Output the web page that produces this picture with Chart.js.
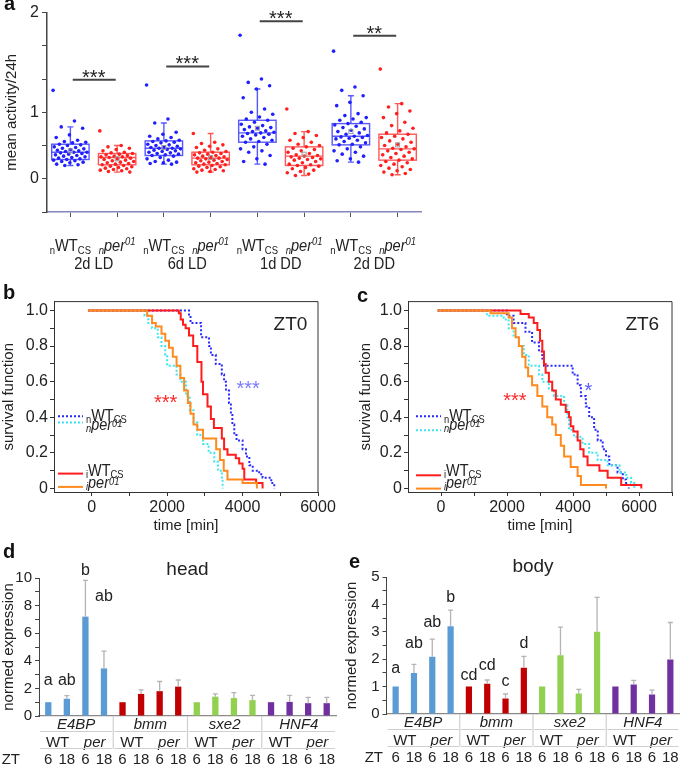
<!DOCTYPE html>
<html>
<head>
<meta charset="utf-8">
<title>activity, survival and expression</title>
<script src="https://cdn.jsdelivr.net/npm/chart.js"></script>
<style>
  body { margin: 0; background: #fff; }
  #page { position: relative; width: 685px; height: 765px; overflow: hidden; font-family: "Liberation Sans", Arial, sans-serif; }
  canvas { position: absolute; }
  .tag { position: absolute; font-weight: bold; font-size: 20px; line-height: 20px; color: #111; }
</style>
</head>
<body>
<div id="page">
  <canvas id="activity" width="430" height="290" style="left:0;top:0"></canvas>
  <canvas id="zt0" width="340" height="245" style="left:0;top:290px"></canvas>
  <canvas id="zt6" width="345" height="245" style="left:340px;top:290px"></canvas>
  <canvas id="head" width="340" height="235" style="left:0;top:530px"></canvas>
  <canvas id="body" width="345" height="235" style="left:340px;top:530px"></canvas>
  <div class="tag" style="left:4px;top:-7px">a</div>
  <div class="tag" style="left:3px;top:282px">b</div>
  <div class="tag" style="left:357px;top:285px">c</div>
  <div class="tag" style="left:3px;top:541px">d</div>
  <div class="tag" style="left:349px;top:551px">e</div>
</div>
<script>
const FONT = '"Liberation Sans", Arial, sans-serif';
Chart.defaults.font.family = FONT;
Chart.defaults.color = '#222';
Chart.defaults.animation = false;
Chart.defaults.plugins.legend.display = false;
Chart.defaults.plugins.tooltip.enabled = false;

// ---------- panel a: mean activity per fly ----------
const activityGroups = ['2d LD', '6d LD', '1d DD', '2d DD'];
const wt2dLD = [1.33, 0.87, 0.78, 0.76, 0.66, 0.62, 0.58, 0.56, 0.55, 0.54, 0.52, 0.51, 0.50, 0.48, 0.47, 0.46, 0.45, 0.44, 0.43, 0.42, 0.41, 0.40, 0.40, 0.39, 0.38, 0.37, 0.36, 0.35, 0.34, 0.33, 0.32, 0.31, 0.30, 0.29, 0.28, 0.27, 0.26, 0.25, 0.24, 0.22, 0.21, 0.20];
const per2dLD = [0.72, 0.50, 0.48, 0.46, 0.44, 0.42, 0.40, 0.39, 0.38, 0.37, 0.36, 0.35, 0.34, 0.33, 0.33, 0.32, 0.31, 0.30, 0.29, 0.28, 0.27, 0.26, 0.25, 0.24, 0.23, 0.22, 0.21, 0.20, 0.19, 0.18, 0.17, 0.16, 0.15, 0.14, 0.13, 0.12, 0.11, 0.10];
const wt6dLD = [1.41, 0.90, 0.84, 0.70, 0.67, 0.64, 0.62, 0.60, 0.58, 0.57, 0.56, 0.55, 0.54, 0.52, 0.51, 0.50, 0.49, 0.48, 0.47, 0.46, 0.46, 0.45, 0.44, 0.43, 0.42, 0.41, 0.40, 0.39, 0.38, 0.37, 0.36, 0.35, 0.34, 0.32, 0.30, 0.28, 0.26, 0.25, 0.24, 0.23, 0.22];
const per6dLD = [0.68, 0.55, 0.53, 0.51, 0.49, 0.47, 0.45, 0.43, 0.41, 0.40, 0.39, 0.38, 0.37, 0.36, 0.35, 0.34, 0.33, 0.32, 0.31, 0.31, 0.30, 0.29, 0.28, 0.27, 0.26, 0.25, 0.24, 0.23, 0.22, 0.21, 0.20, 0.19, 0.18, 0.17, 0.15, 0.14, 0.13, 0.12, 0.11, 0.10];
const wt1dDD = [2.16, 1.50, 1.45, 1.40, 1.35, 1.22, 1.05, 1.00, 0.97, 0.93, 0.90, 0.88, 0.85, 0.82, 0.80, 0.78, 0.77, 0.76, 0.74, 0.72, 0.71, 0.70, 0.69, 0.68, 0.67, 0.66, 0.64, 0.62, 0.60, 0.58, 0.56, 0.55, 0.52, 0.48, 0.45, 0.42, 0.40, 0.35, 0.30, 0.26, 0.22];
const per1dDD = [1.05, 0.71, 0.68, 0.65, 0.62, 0.58, 0.55, 0.52, 0.50, 0.48, 0.46, 0.44, 0.42, 0.40, 0.38, 0.36, 0.35, 0.34, 0.33, 0.32, 0.31, 0.30, 0.29, 0.28, 0.26, 0.24, 0.22, 0.21, 0.20, 0.19, 0.17, 0.15, 0.13, 0.11, 0.09, 0.07, 0.05];
const wt2dDD = [1.92, 1.38, 1.33, 1.25, 1.15, 1.10, 0.98, 0.95, 0.92, 0.90, 0.88, 0.85, 0.83, 0.81, 0.79, 0.77, 0.75, 0.73, 0.71, 0.69, 0.67, 0.65, 0.64, 0.63, 0.62, 0.61, 0.60, 0.58, 0.56, 0.54, 0.52, 0.51, 0.48, 0.45, 0.42, 0.40, 0.37, 0.34, 0.30, 0.27, 0.25];
const per2dDD = [1.65, 1.13, 1.08, 1.02, 0.98, 0.92, 0.85, 0.80, 0.76, 0.72, 0.69, 0.67, 0.64, 0.62, 0.60, 0.57, 0.55, 0.52, 0.50, 0.48, 0.46, 0.45, 0.44, 0.42, 0.40, 0.38, 0.36, 0.34, 0.32, 0.30, 0.28, 0.26, 0.24, 0.22, 0.20, 0.18, 0.16, 0.14, 0.12, 0.10, 0.08, 0.06];
const activityPoints = [wt2dLD, per2dLD, wt6dLD, per6dLD, wt1dDD, per1dDD, wt2dDD, per2dDD];
const boxQ1 = [0.29, 0.21, 0.35, 0.21, 0.55, 0.20, 0.51, 0.28];
const boxMedian = [0.40, 0.32, 0.46, 0.31, 0.69, 0.34, 0.64, 0.45];
const boxQ3 = [0.52, 0.38, 0.57, 0.40, 0.88, 0.48, 0.83, 0.67];
const whiskerLow = [0.20, 0.10, 0.22, 0.10, 0.22, 0.05, 0.25, 0.06];
const whiskerHigh = [0.78, 0.50, 0.84, 0.68, 1.35, 0.71, 1.25, 1.13];
const boxMean = [0.42, 0.30, 0.47, 0.32, 0.76, 0.37, 0.71, 0.51];
const sigLabels = ['***', '***', '***', '**'];
const sigLevel = [1.49, 1.69, 2.37, 2.15];

// ---------- panels b, c: survival ----------
const zt0WtNormT = [-100, 2580, 2620, 2900, 3110, 3160, 3290, 3450, 3510, 3560, 3640, 3690, 3730, 3780, 3840, 4000, 4090, 4180, 4270, 4440, 4530, 4760, 4840];
const zt0WtNormS = [1, 0.97, 0.93, 0.85, 0.80, 0.75, 0.70, 0.64, 0.60, 0.55, 0.48, 0.42, 0.36, 0.30, 0.27, 0.22, 0.18, 0.13, 0.10, 0.08, 0.06, 0.03, 0];
const zt0PerNormT = [-100, 1400, 1500, 1600, 1750, 1850, 1950, 2000, 2250, 2350, 2500, 2600, 2700, 2800, 2950, 3100, 3250, 3350, 3450, 3470];
const zt0PerNormS = [1, 0.97, 0.93, 0.90, 0.85, 0.80, 0.75, 0.69, 0.64, 0.60, 0.52, 0.44, 0.37, 0.30, 0.25, 0.20, 0.15, 0.10, 0.05, 0];
const zt0WtIsoT = [-100, 2310, 2360, 2420, 2490, 2580, 2690, 2800, 2910, 2950, 3070, 3160, 3240, 3450, 3510, 3600, 3820, 3910, 4000, 4045, 4360, 4530];
const zt0WtIsoS = [1, 0.985, 0.95, 0.92, 0.90, 0.86, 0.80, 0.71, 0.60, 0.53, 0.46, 0.39, 0.34, 0.28, 0.22, 0.19, 0.17, 0.14, 0.11, 0.05, 0.03, 0];
const zt0PerIsoT = [-100, 1470, 1600, 1700, 1850, 1950, 2050, 2150, 2250, 2350, 2450, 2550, 2620, 2700, 2800, 2950, 3300, 3400, 3500, 3600, 4000, 4380];
const zt0PerIsoS = [1, 0.97, 0.93, 0.91, 0.87, 0.83, 0.79, 0.74, 0.69, 0.62, 0.55, 0.48, 0.42, 0.36, 0.33, 0.28, 0.22, 0.16, 0.10, 0.05, 0.03, 0];

const zt6WtNormT = [-100, 2000, 2200, 2560, 2760, 2970, 3070, 3120, 3990, 4140, 4240, 4390, 4490, 4640, 4750, 4900, 5000, 5100, 5350, 5510, 5610, 5690];
const zt6WtNormS = [1, 0.97, 0.93, 0.88, 0.82, 0.77, 0.73, 0.69, 0.64, 0.58, 0.52, 0.46, 0.40, 0.33, 0.27, 0.22, 0.18, 0.13, 0.09, 0.05, 0.02, 0];
const zt6PerNormT = [-100, 1390, 1900, 2050, 2200, 2360, 2510, 2660, 2970, 3070, 3270, 3420, 3730, 3830, 3880, 4030, 4290, 4490, 4750, 5050, 5410, 5610, 5760, 5860];
const zt6PerNormS = [1, 0.97, 0.95, 0.90, 0.85, 0.80, 0.75, 0.69, 0.64, 0.60, 0.56, 0.52, 0.47, 0.40, 0.33, 0.29, 0.25, 0.20, 0.16, 0.13, 0.09, 0.06, 0.03, 0];
const zt6WtIsoT = [-100, 2410, 2660, 2810, 2920, 3000, 3070, 3120, 3170, 3270, 3370, 3480, 3630, 3780, 3880, 3930, 4010, 4140, 4220, 4320, 4440, 4800, 5050, 5460, 6070];
const zt6WtIsoS = [1, 0.98, 0.96, 0.93, 0.89, 0.83, 0.77, 0.70, 0.65, 0.60, 0.55, 0.50, 0.47, 0.43, 0.40, 0.35, 0.32, 0.27, 0.22, 0.18, 0.13, 0.10, 0.06, 0.02, 0];
const zt6PerIsoT = [-100, 1500, 2050, 2150, 2260, 2360, 2460, 2560, 2640, 2760, 2920, 3070, 3220, 3370, 3480, 3630, 3730, 3930, 4140, 4240, 5000];
const zt6PerIsoS = [1, 0.985, 0.96, 0.90, 0.85, 0.80, 0.74, 0.68, 0.63, 0.58, 0.52, 0.46, 0.40, 0.36, 0.30, 0.24, 0.18, 0.12, 0.07, 0.02, 0];

// ---------- panels d, e: expression ----------
const genes = ['E4BP', 'bmm', 'sxe2', 'HNF4'];
const genotypeLabels = ['WT', 'per'];
const ztLabels = ['6', '18', '6', '18', '6', '18', '6', '18', '6', '18', '6', '18', '6', '18', '6', '18'];
const headMean = [1.0, 1.25, 7.2, 3.45, 1.0, 1.6, 1.8, 2.13, 1.0, 1.4, 1.3, 1.15, 1.0, 1.02, 0.93, 0.93];
const headErr = [0, 0.23, 2.63, 1.25, 0, 0.3, 0.7, 0.48, 0, 0.2, 0.4, 0.35, 0, 0.48, 0.42, 0.42];
const headLetters = ['a', 'ab', 'b', 'ab'];
const headLetterY = [2.22, 2.22, 10.2, 8.33];
const bodyMean = [1.0, 1.5, 2.09, 3.2, 1.0, 1.1, 0.57, 1.69, 1.0, 2.14, 0.75, 3.0, 1.0, 1.08, 0.71, 1.99];
const bodyErr = [0, 0.31, 0.64, 0.59, 0, 0.14, 0.16, 0.41, 0, 1.03, 0.15, 1.26, 0, 0.15, 0.16, 1.35];
const bodyLetters = ['a', 'ab', 'ab', 'b', 'cd', 'cd', 'c', 'd'];
const bodyLetterY = [1.50, 2.40, 3.17, 4.08, 1.24, 1.60, 1.03, 2.40];
const geneColors = ['#5b9bd5', '#c00000', '#92d050', '#7030a0'];

// text with sub/superscripts: parts = [[text, style]], style '', 'i', 'sub', 'sup', 'isub', 'isup'
function drawRich(ctx, parts, x, y, size, align, sx, subK, supK) {
    sx = sx || 1;
    const segs = parts.map(([text, style]) => {
        const small = style.indexOf('sub') >= 0 || style.indexOf('sup') >= 0;
        const font = (style.charAt(0) === 'i' ? 'italic ' : '') + (small ? Math.round(size * 0.65) : size) + 'px ' + FONT;
        ctx.font = font;
        const dy = style.indexOf('sub') >= 0 ? size * subK : style.indexOf('sup') >= 0 ? -size * supK : 0;
        return {text, font, dy, w: ctx.measureText(text).width};
    });
    const total = segs.reduce((s, g) => s + g.w, 0);
    let cx = align === 'center' ? -total / 2 : align === 'right' ? -total : 0;
    ctx.save();
    ctx.translate(x, y);
    ctx.scale(sx, 1);
    ctx.textAlign = 'left';
    ctx.textBaseline = 'alphabetic';
    segs.forEach(g => { ctx.font = g.font; ctx.fillText(g.text, cx, g.dy); cx += g.w; });
    ctx.restore();
}

const wtParts = p => [[p, 'sub'], ['WT', ''], ['CS', 'sub']];
const perParts = p => [[p, 'isub'], ['per', 'i'], ['01', 'isup']];

function tickList(from, to, step) {
    const out = [];
    for (let k = 0; from + k * step <= to + 1e-9; k++) out.push({value: Math.round((from + k * step) * 1000) / 1000});
    return out;
}

// ---------- chart a ----------
function jitter(i) { return ((i * 0.6180339) % 1) * 0.74 - 0.37; }

const activityDatasets = activityPoints.map((vals, g) => ({
    data: vals.map((v, i) => ({x: g + jitter(i), y: v})),
    backgroundColor: g % 2 ? '#ff1f1f' : '#1f1fff',
    borderWidth: 0,
    pointRadius: 1.8
}));

const activityPlugin = {
    id: 'activityBoxes',
    beforeDatasetsDraw(chart) {
        const {ctx, scales: {x, y}} = chart;
        ctx.save();
        for (let g = 0; g < boxQ1.length; g++) {
            ctx.strokeStyle = g % 2 ? 'rgba(255,70,70,0.9)' : 'rgba(70,70,255,0.9)';
            ctx.lineWidth = 1.4;
            const x0 = x.getPixelForValue(g - 0.4), x1 = x.getPixelForValue(g + 0.4), xc = x.getPixelForValue(g);
            const q1 = y.getPixelForValue(boxQ1[g]), q3 = y.getPixelForValue(boxQ3[g]);
            const med = y.getPixelForValue(boxMedian[g]);
            const lo = y.getPixelForValue(whiskerLow[g]), hi = y.getPixelForValue(whiskerHigh[g]);
            ctx.strokeRect(x0, q3, x1 - x0, q1 - q3);
            ctx.beginPath();
            ctx.moveTo(x0, med); ctx.lineTo(x1, med);
            ctx.moveTo(xc, q3); ctx.lineTo(xc, hi);
            ctx.moveTo(xc - 3, hi); ctx.lineTo(xc + 3, hi);
            ctx.moveTo(xc, q1); ctx.lineTo(xc, lo);
            ctx.moveTo(xc - 3, lo); ctx.lineTo(xc + 3, lo);
            ctx.stroke();
        }
        ctx.restore();
    },
    afterDatasetsDraw(chart) {
        const {ctx, scales: {x, y}} = chart;
        ctx.save();
        ctx.strokeStyle = '#9a9a9a';
        ctx.lineWidth = 1;
        boxMean.forEach((m, g) => {
            ctx.strokeRect(x.getPixelForValue(g) - 2, y.getPixelForValue(m) - 2, 4, 4);
        });
        ctx.restore();
    },
    afterDraw(chart) {
        const {ctx, scales: {x, y}} = chart;
        ctx.save();
        ctx.fillStyle = '#222';
        activityGroups.forEach((name, k) => {
            const cw = x.getPixelForValue(2 * k), cp = x.getPixelForValue(2 * k + 1);
            drawRich(ctx, wtParts('n'), cw, 251, 17, 'center', 0.86, 0.15, 0.37);
            drawRich(ctx, perParts('n'), cp, 251, 17, 'center', 0.86, 0.15, 0.37);
            drawRich(ctx, [[name, '']], (cw + cp) / 2, 269, 17, 'center', 0.86, 0, 0);
            // significance bar
            const ly = y.getPixelForValue(sigLevel[k]);
            ctx.strokeStyle = '#444';
            ctx.lineWidth = 2;
            ctx.beginPath();
            ctx.moveTo(x.getPixelForValue(2 * k + 0.05), ly);
            ctx.lineTo(x.getPixelForValue(2 * k + 0.97), ly);
            ctx.stroke();
            ctx.font = '20px ' + FONT;
            ctx.textAlign = 'center';
            ctx.textBaseline = 'alphabetic';
            ctx.fillText(sigLabels[k], x.getPixelForValue(2 * k + 0.5), ly + 4);
        });
        ctx.restore();
    }
};

new Chart(document.getElementById('activity'), {
    type: 'scatter',
    data: {datasets: activityDatasets},
    options: {
        responsive: false,
        layout: {padding: {left: 0, top: 8, right: 9, bottom: 0}},
        scales: {
            x: {
                type: 'linear', min: -0.5, max: 7.5,
                afterBuildTicks: s => { s.ticks = tickList(0, 7, 1); },
                ticks: {display: false},
                grid: {display: true, drawOnChartArea: false, drawTicks: true, tickLength: 5, color: '#555'},
                border: {color: '#8585c0', width: 1.5},
                afterFit: s => { s.height = 78; }
            },
            y: {
                min: -0.5, max: 2.5,
                afterBuildTicks: s => { s.ticks = tickList(-0.5, 2.5, 0.5); },
                ticks: {
                    callback: v => v === 0 ? '0' : v === 1 ? '1' : v === 2.5 ? '2' : '',
                    font: {size: 16}, color: '#222', padding: 3
                },
                grid: {drawOnChartArea: false, tickLength: 5, color: '#444'},
                border: {color: '#444', width: 1.5},
                title: {display: true, text: 'mean activity/24h', font: {size: 15}, color: '#222', padding: {top: 3, bottom: 0}},
                afterFit: s => { s.width = 47; }
            }
        }
    },
    plugins: [activityPlugin]
});

// ---------- charts b, c ----------
function survivalChart(id, curves, xMax, yWidth, padRight, titlePad, legendDx, legendLines, notes) {
    const legendTexts = [119.5, 128.5, 174.5, 186.5];
    const plugin = {
        id: 'survivalDecor',
        afterDraw(chart) {
            const {ctx, chartArea: a, scales: {x, y}} = chart;
            ctx.save();
            ctx.strokeStyle = '#333';
            ctx.lineWidth = 1;
            ctx.beginPath();
            ctx.moveTo(a.left, a.top); ctx.lineTo(a.right, a.top); ctx.lineTo(a.right, a.bottom);
            ctx.stroke();
            // legend
            curves.forEach((c, i) => {
                const ly = a.top + legendLines[i];
                ctx.strokeStyle = c.color;
                ctx.lineWidth = 2;
                ctx.setLineDash(c.dash ? [2, 2] : []);
                ctx.beginPath();
                ctx.moveTo(a.left + legendDx, ly);
                ctx.lineTo(a.left + legendDx + 25, ly);
                ctx.stroke();
                ctx.fillStyle = '#222';
                drawRich(ctx, c.label, a.left + legendDx + 28, a.top + legendTexts[i], 17, 'left', 0.85, 0.1, 0.17);
            });
            ctx.setLineDash([]);
            notes.forEach(n => {
                ctx.fillStyle = n.color;
                ctx.font = n.size + 'px ' + FONT;
                ctx.textAlign = 'center';
                ctx.textBaseline = 'alphabetic';
                ctx.fillText(n.text, x.getPixelForValue(n.x), y.getPixelForValue(n.y) + n.size * n.rise);
            });
            ctx.restore();
        }
    };
    new Chart(document.getElementById(id), {
        type: 'line',
        data: {
            datasets: curves.map(c => ({
                data: c.t.map((t, i) => ({x: t, y: c.s[i]})),
                borderColor: c.color,
                borderWidth: 2,
                borderDash: c.dash ? [2, 2] : [],
                stepped: true,
                pointRadius: 0,
                fill: false,
                order: c.order
            }))
        },
        options: {
            responsive: false,
            layout: {padding: {left: 0, top: 3, right: padRight, bottom: 0}},
            scales: {
                x: {
                    type: 'linear', min: -1000, max: xMax,
                    afterBuildTicks: s => { s.ticks = tickList(0, xMax, 1000); },
                    ticks: {
                        callback: v => v % 2000 === 0 ? String(v) : '',
                        autoSkip: false, maxRotation: 0, font: {size: 16}, color: '#222', padding: 2
                    },
                    grid: {drawOnChartArea: false, tickLength: 4, color: '#333'},
                    border: {color: '#333'},
                    title: {display: true, text: 'time [min]', font: {size: 15}, color: '#222', padding: {top: 0, bottom: 0}},
                    afterFit: s => { s.height = 43; }
                },
                y: {
                    min: -0.02, max: 1.05,
                    afterBuildTicks: s => { s.ticks = tickList(0, 1, 0.1); },
                    ticks: {
                        callback: v => {
                            const k = Math.round(v * 10);
                            return k % 2 ? '' : k === 0 ? '0' : (k / 10).toFixed(1);
                        },
                        autoSkip: false, font: {size: 16}, color: '#222', padding: 2
                    },
                    grid: {drawOnChartArea: false, tickLength: 4, color: '#333'},
                    border: {color: '#333'},
                    title: {display: true, text: 'survival function', font: {size: 15}, color: '#222', padding: {top: titlePad, bottom: 0}},
                    afterFit: s => { s.width = yWidth; }
                }
            }
        },
        plugins: [plugin]
    });
}

const blueDot = '#2a2aff', cyanDot = '#3ee6f0', redLine = '#ff1c1c', orangeLine = '#ff8a1e';

survivalChart('zt0', [
    {t: zt0WtNormT, s: zt0WtNormS, color: blueDot, dash: true, order: 3, label: wtParts('n')},
    {t: zt0PerNormT, s: zt0PerNormS, color: cyanDot, dash: true, order: 2, label: perParts('n')},
    {t: zt0WtIsoT, s: zt0WtIsoS, color: redLine, dash: false, order: 1, label: wtParts('i')},
    {t: zt0PerIsoT, s: zt0PerIsoS, color: orangeLine, dash: false, order: 0, label: perParts('i')}
], 6000, 54, 22, 0, 4, [114.7, 121, 172, 185.3], [
    {text: 'ZT0', x: 5270, y: 0.93, color: '#222', size: 19, rise: 0.36},
    {text: '***', x: 1960, y: 0.51, color: '#ff2a2a', size: 20, rise: 0.57},
    {text: '***', x: 4150, y: 0.59, color: '#7b7bff', size: 20, rise: 0.57}
]);

survivalChart('zt6', [
    {t: zt6WtNormT, s: zt6WtNormS, color: blueDot, dash: true, order: 3, label: wtParts('n')},
    {t: zt6PerNormT, s: zt6PerNormS, color: cyanDot, dash: true, order: 2, label: perParts('n')},
    {t: zt6WtIsoT, s: zt6WtIsoS, color: redLine, dash: false, order: 1, label: wtParts('i')},
    {t: zt6PerIsoT, s: zt6PerIsoS, color: orangeLine, dash: false, order: 0, label: perParts('i')}
], 7000, 68, 13, 17, 8, [114.7, 128.7, 173.7, 187], [
    {text: 'ZT6', x: 6100, y: 0.93, color: '#222', size: 19, rise: 0.36},
    {text: '***', x: 2240, y: 0.52, color: '#ff2a2a', size: 20, rise: 0.57},
    {text: '*', x: 4470, y: 0.58, color: '#5a5aff', size: 20, rise: 0.57}
]);

// ---------- charts d, e ----------
function expressionChart(id, title, values, errors, letters, letterY, yMax, minorStep, majorStep, o) {
    const plugin = {
        id: 'expressionDecor',
        afterDatasetsDraw(chart) {
            const {ctx, scales: {y}} = chart;
            const bars = chart.getDatasetMeta(0).data;
            ctx.save();
            ctx.strokeStyle = '#b4b4b4';
            ctx.lineWidth = 1.3;
            bars.forEach((b, i) => {
                if (!errors[i]) return;
                const top = y.getPixelForValue(values[i] + errors[i]);
                ctx.beginPath();
                ctx.moveTo(b.x, b.y);
                ctx.lineTo(b.x, top);
                ctx.moveTo(b.x - 2.5, top);
                ctx.lineTo(b.x + 2.5, top);
                ctx.stroke();
            });
            ctx.fillStyle = '#222';
            ctx.font = '16px ' + FONT;
            ctx.textAlign = 'center';
            ctx.textBaseline = 'alphabetic';
            letters.forEach((l, i) => ctx.fillText(l, bars[i].x, y.getPixelForValue(letterY[i])));
            ctx.restore();
        },
        afterDraw(chart) {
            const {ctx, chartArea: a, scales: {x}} = chart;
            const px = i => x.getPixelForValue(i);
            const half = (px(1) - px(0)) / 2;
            ctx.save();
            ctx.fillStyle = '#222';
            ctx.textBaseline = 'alphabetic';
            ctx.textAlign = 'center';
            ctx.font = '19px ' + FONT;
            ctx.fillText(title, (a.left + a.right) / 2, a.top - o.titleGap);
            const row1 = a.bottom + 13, line1 = a.bottom + 15.5, row2 = a.bottom + 30.5, line2 = a.bottom + 32.5, row3 = a.bottom + 48;
            ctx.strokeStyle = '#cfcfcf';
            ctx.lineWidth = 1.2;
            genes.forEach((g, k) => {
                const l = px(4 * k) - half, r = px(4 * k + 3) + half;
                ctx.font = 'italic 15px ' + FONT;
                ctx.fillText(g, (px(4 * k + 1) + px(4 * k + 2)) / 2, row1);
                ctx.font = '15px ' + FONT;
                ctx.fillText(genotypeLabels[0], (px(4 * k) + px(4 * k + 1)) / 2, row2);
                ctx.font = 'italic 15px ' + FONT;
                ctx.fillText(genotypeLabels[1], (px(4 * k + 2) + px(4 * k + 3)) / 2, row2);
                ctx.beginPath();
                ctx.moveTo(l + 1, line1); ctx.lineTo(r - 1, line1);
                ctx.moveTo(l + 1, line2); ctx.lineTo(r - 1, line2);
                if (k > 0) { ctx.moveTo(l, a.bottom); ctx.lineTo(l, line2); }
                ctx.stroke();
            });
            ctx.font = '15px ' + FONT;
            ztLabels.forEach((z, i) => ctx.fillText(z, px(i), row3));
            ctx.textAlign = 'right';
            ctx.fillText('ZT', a.left + o.ztDx, row3);
            ctx.restore();
        }
    };
    new Chart(document.getElementById(id), {
        type: 'bar',
        data: {
            labels: ztLabels,
            datasets: [{
                data: values,
                backgroundColor: values.map((v, i) => geneColors[Math.floor(i / 4)]),
                barPercentage: 0.34,
                categoryPercentage: 1
            }]
        },
        options: {
            responsive: false,
            layout: {padding: {left: 0, top: o.top, right: o.right, bottom: 0}},
            scales: {
                x: {
                    ticks: {display: false},
                    grid: {display: false},
                    border: {color: '#8a8a8a', width: 1.2},
                    afterFit: s => { s.height = o.xHeight; }
                },
                y: {
                    min: 0, max: yMax,
                    afterBuildTicks: s => { s.ticks = tickList(0, yMax, minorStep); },
                    ticks: {
                        callback: v => Math.abs(v / majorStep - Math.round(v / majorStep)) < 1e-6 ? String(v) : '',
                        autoSkip: false, font: {size: 15}, color: '#222', padding: 3
                    },
                    grid: {drawOnChartArea: false, tickLength: 4, color: '#444'},
                    border: {color: '#444'},
                    title: {display: true, text: 'normed expression', font: {size: 15}, color: '#222', padding: {top: o.titlePad, bottom: 0}},
                    afterFit: s => { s.width = o.yWidth; }
                }
            }
        },
        plugins: [plugin]
    });
}

expressionChart('head', 'head', headMean, headErr, headLetters, headLetterY, 10, 1, 2,
    {top: 48, right: 4, xHeight: 49, yWidth: 39, titlePad: 0, titleGap: 3, ztDx: -19});
expressionChart('body', 'body', bodyMean, bodyErr, bodyLetters, bodyLetterY, 5, 0.5, 1,
    {top: 47, right: 5.5, xHeight: 51, yWidth: 46.5, titlePad: 3, titleGap: 5, ztDx: -3.5});
</script>
</body>
</html>
